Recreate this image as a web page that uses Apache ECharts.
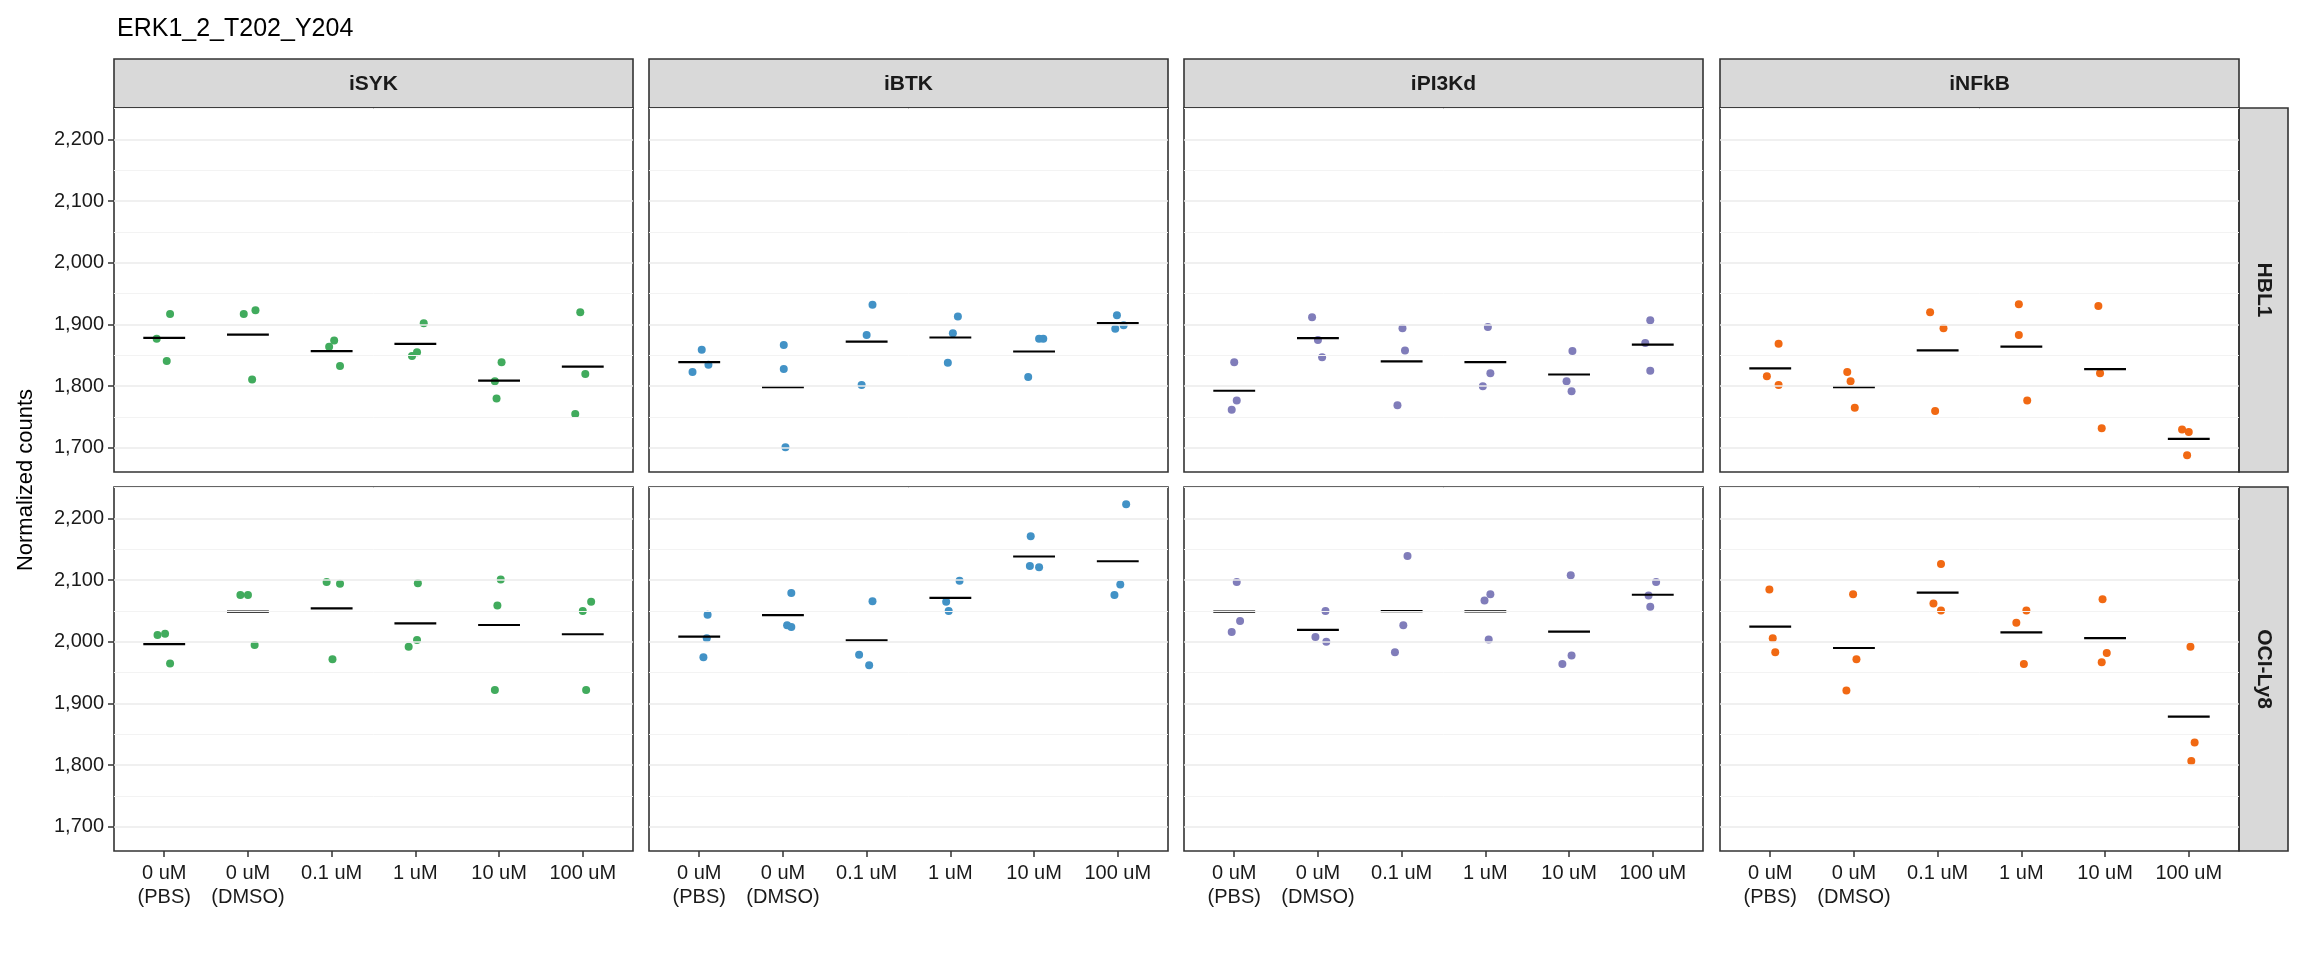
<!DOCTYPE html>
<html><head><meta charset="utf-8">
<script src="https://cdn.jsdelivr.net/npm/echarts@6/dist/echarts.min.js"></script>
<style>html,body{margin:0;padding:0;background:#fff}#c{width:2304px;height:960px}</style>
</head><body><div id="c"></div>
<script>
const title = "ERK1_2_T202_Y204";
const drugs = ["iSYK","iBTK","iPI3Kd","iNFkB"];
const cells = ["HBL1","OCI-Ly8"];
const doses = ["0 uM\n(PBS)","0 uM\n(DMSO)","0.1 uM","1 uM","10 uM","100 uM"];
const yTicks = [1700,1800,1900,2000,2100,2200];
const colors = {iSYK:"#41ab5d", iBTK:"#4292c6", iPI3Kd:"#807dba", iNFkB:"#f16913"};
// values[cell][drug] = per dose, 3 replicates
const HBL1_iSYK   = [[1877,1917,1841],[1917,1923,1811],[1864,1874,1833],[1849,1855,1902],[1839,1808,1780],[1920,1820,1755]];
const HBL1_iBTK   = [[1859,1823,1835],[1867,1828,1701],[1932,1883,1802],[1913,1886,1838],[1877,1877,1815],[1915,1893,1899]];
const HBL1_iPI3Kd = [[1839,1777,1762],[1912,1875,1847],[1894,1858,1769],[1896,1821,1800],[1857,1808,1792],[1907,1870,1825]];
const HBL1_iNFkB  = [[1869,1816,1802],[1823,1808,1765],[1920,1894,1760],[1933,1883,1777],[1930,1821,1732],[1730,1726,1688]];
const OCI_iSYK    = [[2011,2013,1965],[2076,2076,1995],[2097,2094,1972],[2095,1992,2003],[2101,2059,1922],[2065,2050,1922]];
const OCI_iBTK    = [[2044,2006,1975],[2079,2027,2024],[2066,1979,1962],[2099,2065,2050],[2171,2123,2121],[2223,2093,2076]];
const OCI_iPI3Kd  = [[2097,2034,2016],[2050,2008,2000],[2139,2027,1983],[2067,2077,2004],[2108,1978,1964],[2097,2075,2057]];
const OCI_iNFkB   = [[2085,2006,1983],[2077,1972,1921],[2126,2062,2051],[2051,2031,1964],[2069,1982,1967],[1992,1837,1807]];
// horizontal jitter (category units)
const J_HBL1_iSYK   = [[-.09,.07,.03],[-.05,.09,.05],[-.03,.03,.10],[-.04,.02,.10],[.03,-.05,-.03],[-.03,.03,-.09]];
const J_HBL1_iBTK   = [[.03,-.08,.11],[.01,.01,.03],[.07,0,-.06],[.09,.03,-.03],[.06,.11,-.07],[-.01,-.03,.07]];
const J_HBL1_iPI3Kd = [[0,.03,-.03],[-.07,0,.05],[.01,.04,-.05],[.03,.06,-.03],[.04,-.03,.03],[-.03,-.09,-.03]];
const J_HBL1_iNFkB  = [[.10,-.04,.10],[-.08,-.04,.01],[-.09,.07,-.03],[-.03,-.03,.07],[-.08,-.06,-.04],[-.08,0,-.02]];
const J_OCI_iSYK    = [[-.08,.01,.07],[-.09,0,.08],[-.06,.10,.01],[.03,-.08,.02],[.02,-.02,-.05],[.10,0,.04]];
const J_OCI_iBTK    = [[.10,.09,.05],[.10,.05,.10],[.07,-.09,.03],[.11,-.05,-.02],[-.04,-.05,.06],[.10,.03,-.04]];
const J_OCI_iPI3Kd  = [[.03,.07,-.03],[.09,-.03,.10],[.07,.02,-.08],[-.01,.06,.04],[.02,.03,-.08],[.04,-.05,-.03]];
const J_OCI_iNFkB   = [[-.01,.03,.06],[-.01,.03,-.09],[.04,-.05,.04],[.06,-.06,.03],[-.03,.02,-.04],[.02,.07,.03]];

const vals = [[HBL1_iSYK,HBL1_iBTK,HBL1_iPI3Kd,HBL1_iNFkB],[OCI_iSYK,OCI_iBTK,OCI_iPI3Kd,OCI_iNFkB]];
const jits = [[J_HBL1_iSYK,J_HBL1_iBTK,J_HBL1_iPI3Kd,J_HBL1_iNFkB],[J_OCI_iSYK,J_OCI_iBTK,J_OCI_iPI3Kd,J_OCI_iNFkB]];

const lefts=[114,649,1184,1720], W=519, tops=[108,487], H=364;
const grids=[],xAxes=[],yAxes=[],series=[],graphics=[];
const majorLines = yTicks.map(v=>({yAxis:v,lineStyle:{color:"#ebebeb",width:1.6,type:"solid"}}));
const minorLines = [1750,1850,1950,2050,2150,2250].map(v=>({yAxis:v,lineStyle:{color:"#f3f3f3",width:1,type:"solid"}}));
let gi=0;
for(let r=0;r<2;r++)for(let c=0;c<4;c++){
  grids.push({left:lefts[c],top:tops[r],width:W,height:H,show:true,borderColor:"#333",borderWidth:1.6,backgroundColor:"transparent",z:5});
  xAxes.push({gridIndex:gi,type:"value",min:0.4,max:6.6,
    splitLine:{show:false},axisLine:{show:false},
    axisTick:{show:r===1,customValues:[1,2,3,4,5,6],length:6,lineStyle:{color:"#333",width:1.5}},
    axisLabel:{show:r===1,customValues:[1,2,3,4,5,6],formatter:v=>doses[Math.round(v)-1],color:"#1a1a1a",fontSize:20,fontFamily:"Liberation Sans, Arial",lineHeight:24,margin:10}});
  yAxes.push({gridIndex:gi,type:"value",min:1661,max:2251,
    splitLine:{show:false},axisLine:{show:false},
    axisTick:{show:c===0,customValues:yTicks,length:6,lineStyle:{color:"#333",width:1.5}},
    axisLabel:{show:c===0,customValues:yTicks,color:"#1a1a1a",fontSize:20,fontFamily:"Liberation Sans, Arial",margin:10}});
  series.push({type:"line",xAxisIndex:gi,yAxisIndex:gi,data:[],silent:true,
    markLine:{silent:true,symbol:"none",label:{show:false},animation:false,data:minorLines.concat(majorLines)}});
  const d=drugs[c], pts=[], means=[];
  vals[r][c].forEach((arr,i)=>{
    arr.forEach((v,k)=>pts.push([i+1+jits[r][c][i][k],v]));
    means.push([i+1,arr.reduce((a,b)=>a+b,0)/arr.length]);
  });
  series.push({type:"scatter",xAxisIndex:gi,yAxisIndex:gi,data:pts,symbolSize:8,itemStyle:{color:colors[d],opacity:1},z:3,animation:false});
  series.push({type:"custom",xAxisIndex:gi,yAxisIndex:gi,data:means,z:4,animation:false,
    renderItem:(p,api)=>{const x=api.value(0),y=api.value(1);const a=api.coord([x-0.25,y]),b=api.coord([x+0.25,y]);
      return {type:"line",shape:{x1:a[0],y1:a[1],x2:b[0],y2:b[1]},style:{stroke:"#000",lineWidth:2.2}};}});
  gi++;
}
for(let c=0;c<4;c++){
  graphics.push({type:"rect",shape:{x:lefts[c],y:59,width:W,height:49},style:{fill:"#d9d9d9",stroke:"#333",lineWidth:1.6}});
  graphics.push({type:"text",x:lefts[c]+W/2,y:84,style:{text:drugs[c],fill:"#1a1a1a",font:"bold 21px Liberation Sans, Arial",align:"center",verticalAlign:"middle"}});
}
for(let r=0;r<2;r++){
  graphics.push({type:"rect",shape:{x:lefts[3]+W,y:tops[r],width:49,height:H},style:{fill:"#d9d9d9",stroke:"#333",lineWidth:1.6}});
  graphics.push({type:"text",x:lefts[3]+W+25,y:tops[r]+H/2,rotation:-Math.PI/2,style:{text:cells[r],fill:"#1a1a1a",font:"bold 21px Liberation Sans, Arial",align:"center",verticalAlign:"middle"}});
}
graphics.push({type:"text",x:26,y:480,rotation:Math.PI/2,style:{text:"Normalized counts",fill:"#000",font:"22px Liberation Sans, Arial",align:"center",verticalAlign:"middle"}});
const chart=echarts.init(document.getElementById("c"));
chart.setOption({animation:false,backgroundColor:"#fff",
  title:{text:title,left:112,top:12,textStyle:{fontSize:25,fontWeight:"normal",color:"#000",fontFamily:"Liberation Sans, Arial"}},
  grid:grids,xAxis:xAxes,yAxis:yAxes,series:series,graphic:graphics});
</script></body></html>
